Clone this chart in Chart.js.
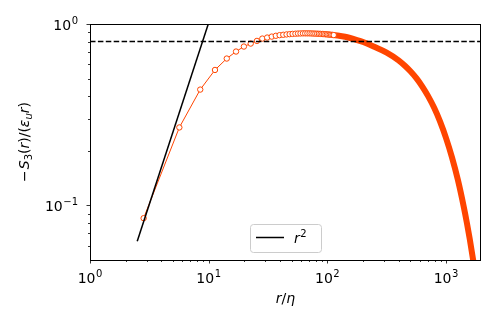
<!DOCTYPE html>
<html>
<head>
<meta charset="utf-8">
<script src="https://cdn.jsdelivr.net/npm/chart.js@4/dist/chart.umd.min.js"></script>
<style>
  body { margin: 0; background: #fff; }
  #wrap { width: 498px; height: 332px; }
</style>
</head>
<body>
<div id="wrap"><canvas id="structureChart" width="498" height="332"></canvas></div>
<script>
// separations r/eta where the markers are still visible
const rMarkers = [2.83, 5.66, 8.49, 11.3, 14.2, 17.0, 19.8, 22.6, 25.5, 28.3,
  31.1, 34.0, 36.8, 39.6, 42.5, 45.3, 48.1, 50.9, 53.8, 56.6,
  59.4, 62.3, 65.1, 67.9, 70.8, 73.6, 76.4, 79.2, 82.1, 84.9,
  87.7, 90.6, 93.4, 96.2, 99.1, 101.9, 104.7, 107.5, 110.4, 113.2];
const sMarkers = [0.085, 0.269, 0.435, 0.558, 0.645, 0.705, 0.751, 0.780, 0.807, 0.831,
  0.842, 0.852, 0.861, 0.868, 0.872, 0.876, 0.879, 0.882, 0.884, 0.886,
  0.887, 0.888, 0.888, 0.888, 0.888, 0.887, 0.886, 0.885, 0.884, 0.883,
  0.882, 0.881, 0.880, 0.878, 0.877, 0.875, 0.874, 0.872, 0.871, 0.869];

// dense part, markers merge into a thick band
const rTail = [113.2, 141, 178, 200, 251, 316, 398, 450, 501, 562,
  631, 708, 794, 891, 1000, 1122, 1259, 1413, 1500, 1585,
  1686, 1778, 1905];
const sTail = [0.869, 0.850, 0.816, 0.796, 0.747, 0.696, 0.631, 0.589, 0.549, 0.503,
  0.452, 0.399, 0.345, 0.2895, 0.235, 0.184, 0.138, 0.0976, 0.0797, 0.0650,
  0.0507, 0.0401, 0.0289];

// r^2 reference line and the 4/5 level
const rPower = [2.5, 10.5];
const sPower = [0.0635, 1.12];
const refLevel = 0.8;

const xRange = [1, 1970];
const yRange = [0.05, 1];
const xMajor = [1, 10, 100, 1000];
const yMajor = [0.1, 1];

const orange = "#ff4500";
const FONT = '"DejaVu Sans", sans-serif';

function toPoints(xs, ys) {
  return xs.map((x, i) => ({ x: x, y: ys[i] }));
}

function minorTicks(lo, hi) {
  const out = [];
  for (let dec = Math.floor(Math.log10(lo)); dec <= Math.ceil(Math.log10(hi)); dec++) {
    for (let m = 2; m <= 9; m++) {
      const v = m * Math.pow(10, dec);
      if (v > lo && v < hi) out.push(v);
    }
  }
  return out;
}

// draws "10" with a raised exponent
function drawPower(ctx, exp, x, y, align) {
  const baseFont = "14px " + FONT;
  const expFont = "10px " + FONT;
  ctx.font = baseFont;
  const wb = ctx.measureText("10").width;
  ctx.font = expFont;
  const we = ctx.measureText(exp).width;
  const total = wb + we + 0.5;
  let x0 = x;
  if (align === "center") x0 = x - total / 2;
  if (align === "right") x0 = x - total;
  ctx.textAlign = "left";
  ctx.textBaseline = "alphabetic";
  ctx.font = baseFont;
  ctx.fillText("10", x0, y);
  ctx.font = expFont;
  ctx.fillText(exp, x0 + wb + 0.5, y - 6.5);
}

// runs of text with italic / subscript parts
function drawRuns(ctx, runs, cx, cy) {
  const fontOf = (r) => (r.it ? "italic " : "") + (r.sub || r.sup ? "10px " : "14px ") + FONT;
  let total = 0;
  runs.forEach((r) => {
    ctx.font = fontOf(r);
    r.w = ctx.measureText(r.t).width + (r.gap || 0);
    total += r.w;
  });
  let x = cx - total / 2;
  ctx.textAlign = "left";
  ctx.textBaseline = "alphabetic";
  runs.forEach((r) => {
    ctx.font = fontOf(r);
    const dy = r.sub ? 3 : r.sup ? -6 : 0;
    ctx.fillText(r.t, x, cy + dy);
    x += r.w;
  });
}

const axesDecor = {
  id: "axesDecor",
  afterDraw(chart) {
    const ctx = chart.ctx;
    const a = chart.chartArea;
    const xs = chart.scales.x;
    const ys = chart.scales.y;
    ctx.save();

    // frame
    ctx.strokeStyle = "#000";
    ctx.lineWidth = 1;
    ctx.strokeRect(a.left + 0.5, a.top + 0.5, a.right - a.left - 1, a.bottom - a.top);

    // tick marks
    ctx.lineWidth = 0.8;
    xMajor.forEach((v) => {
      const px = Math.round(xs.getPixelForValue(v)) + 0.5;
      ctx.beginPath(); ctx.moveTo(px, a.bottom); ctx.lineTo(px, a.bottom + 3.5); ctx.stroke();
    });
    minorTicks(xRange[0], xRange[1]).forEach((v) => {
      const px = Math.round(xs.getPixelForValue(v)) + 0.5;
      ctx.beginPath(); ctx.moveTo(px, a.bottom); ctx.lineTo(px, a.bottom + 2); ctx.stroke();
    });
    yMajor.forEach((v) => {
      const py = Math.round(ys.getPixelForValue(v)) + 0.5;
      ctx.beginPath(); ctx.moveTo(a.left, py); ctx.lineTo(a.left - 3.5, py); ctx.stroke();
    });
    minorTicks(yRange[0], yRange[1]).forEach((v) => {
      const py = Math.round(ys.getPixelForValue(v)) + 0.5;
      ctx.beginPath(); ctx.moveTo(a.left, py); ctx.lineTo(a.left - 2, py); ctx.stroke();
    });

    // tick labels
    ctx.fillStyle = "#000";
    xMajor.forEach((v) => {
      drawPower(ctx, String(Math.round(Math.log10(v))), xs.getPixelForValue(v), a.bottom + 23, "center");
    });
    yMajor.forEach((v) => {
      const e = Math.round(Math.log10(v));
      drawPower(ctx, e < 0 ? "\u2212" + -e : String(e), a.left - 12, ys.getPixelForValue(v) + 6, "right");
    });

    // axis titles
    drawRuns(ctx, [{ t: "r", it: true }, { t: "/" }, { t: "\u03b7", it: true }],
      (a.left + a.right) / 2, a.bottom + 43);
    ctx.save();
    ctx.translate(29, (a.top + a.bottom) / 2);
    ctx.rotate(-Math.PI / 2);
    drawRuns(ctx, [
      { t: "\u2212", gap: 1 }, { t: "S", it: true }, { t: "3", sub: true }, { t: "(" },
      { t: "r", it: true }, { t: ")/(" }, { t: "\u03b5", it: true },
      { t: "u", it: true, sub: true }, { t: "r", it: true }, { t: ")" }
    ], 0, 0);
    ctx.restore();

    // legend box for the r^2 line
    const lx = 250, ly = 224, lw = 71, lh = 28;
    ctx.beginPath();
    ctx.roundRect(lx + 0.5, ly + 0.5, lw, lh, 3);
    ctx.fillStyle = "rgba(255,255,255,0.8)";
    ctx.fill();
    ctx.strokeStyle = "#cccccc";
    ctx.lineWidth = 1;
    ctx.stroke();
    ctx.beginPath();
    ctx.moveTo(lx + 6, ly + 13.5);
    ctx.lineTo(lx + 34, ly + 13.5);
    ctx.strokeStyle = "#000";
    ctx.lineWidth = 1.5;
    ctx.stroke();
    ctx.fillStyle = "#000";
    ctx.textAlign = "left";
    ctx.font = "italic 14px " + FONT;
    ctx.fillText("r", lx + 44, ly + 19);
    const wr = ctx.measureText("r").width;
    ctx.font = "10px " + FONT;
    ctx.fillText("2", lx + 44 + wr + 0.5, ly + 13);

    ctx.restore();
  }
};

document.addEventListener("DOMContentLoaded", () => {
  const ctx = document.getElementById("structureChart").getContext("2d");

  new Chart(ctx, {
    type: "line",
    data: {
      datasets: [
        {
          label: "4/5",
          data: toPoints(xRange, [refLevel, refLevel]),
          borderColor: "#000",
          borderWidth: 1.5,
          borderDash: [5.5, 2.4],
          pointRadius: 0,
          order: 0,
          clip: 0,
        },
        {
          label: "r^2",
          data: toPoints(rPower, sPower),
          borderColor: "#000",
          borderWidth: 1.5,
          pointRadius: 0,
          order: 1,
          clip: 0,
        },
        {
          label: "S3 markers",
          data: toPoints(rMarkers, sMarkers),
          borderColor: orange,
          borderWidth: 1,
          pointRadius: 2.7,
          pointBorderWidth: 1,
          pointBorderColor: orange,
          pointBackgroundColor: "#fff",
          order: 2,
          clip: 0,
        },
        {
          label: "S3 dense",
          data: toPoints(rTail, sTail),
          borderColor: orange,
          borderWidth: 6,
          borderCapStyle: "round",
          borderJoinStyle: "round",
          cubicInterpolationMode: "monotone",
          pointRadius: 0,
          order: 3,
          clip: 0,
        },
      ],
    },
    options: {
      responsive: false,
      animation: false,
      devicePixelRatio: 1,
      layout: { padding: { left: 90, top: 24, right: 17, bottom: 72 } },
      plugins: {
        legend: { display: false },
        tooltip: { enabled: false },
      },
      scales: {
        x: {
          type: "logarithmic",
          display: false,
          min: xRange[0],
          max: xRange[1],
        },
        y: {
          type: "logarithmic",
          display: false,
          min: yRange[0],
          max: yRange[1],
        },
      },
    },
    plugins: [axesDecor],
  });
});
</script>
</body>
</html>
